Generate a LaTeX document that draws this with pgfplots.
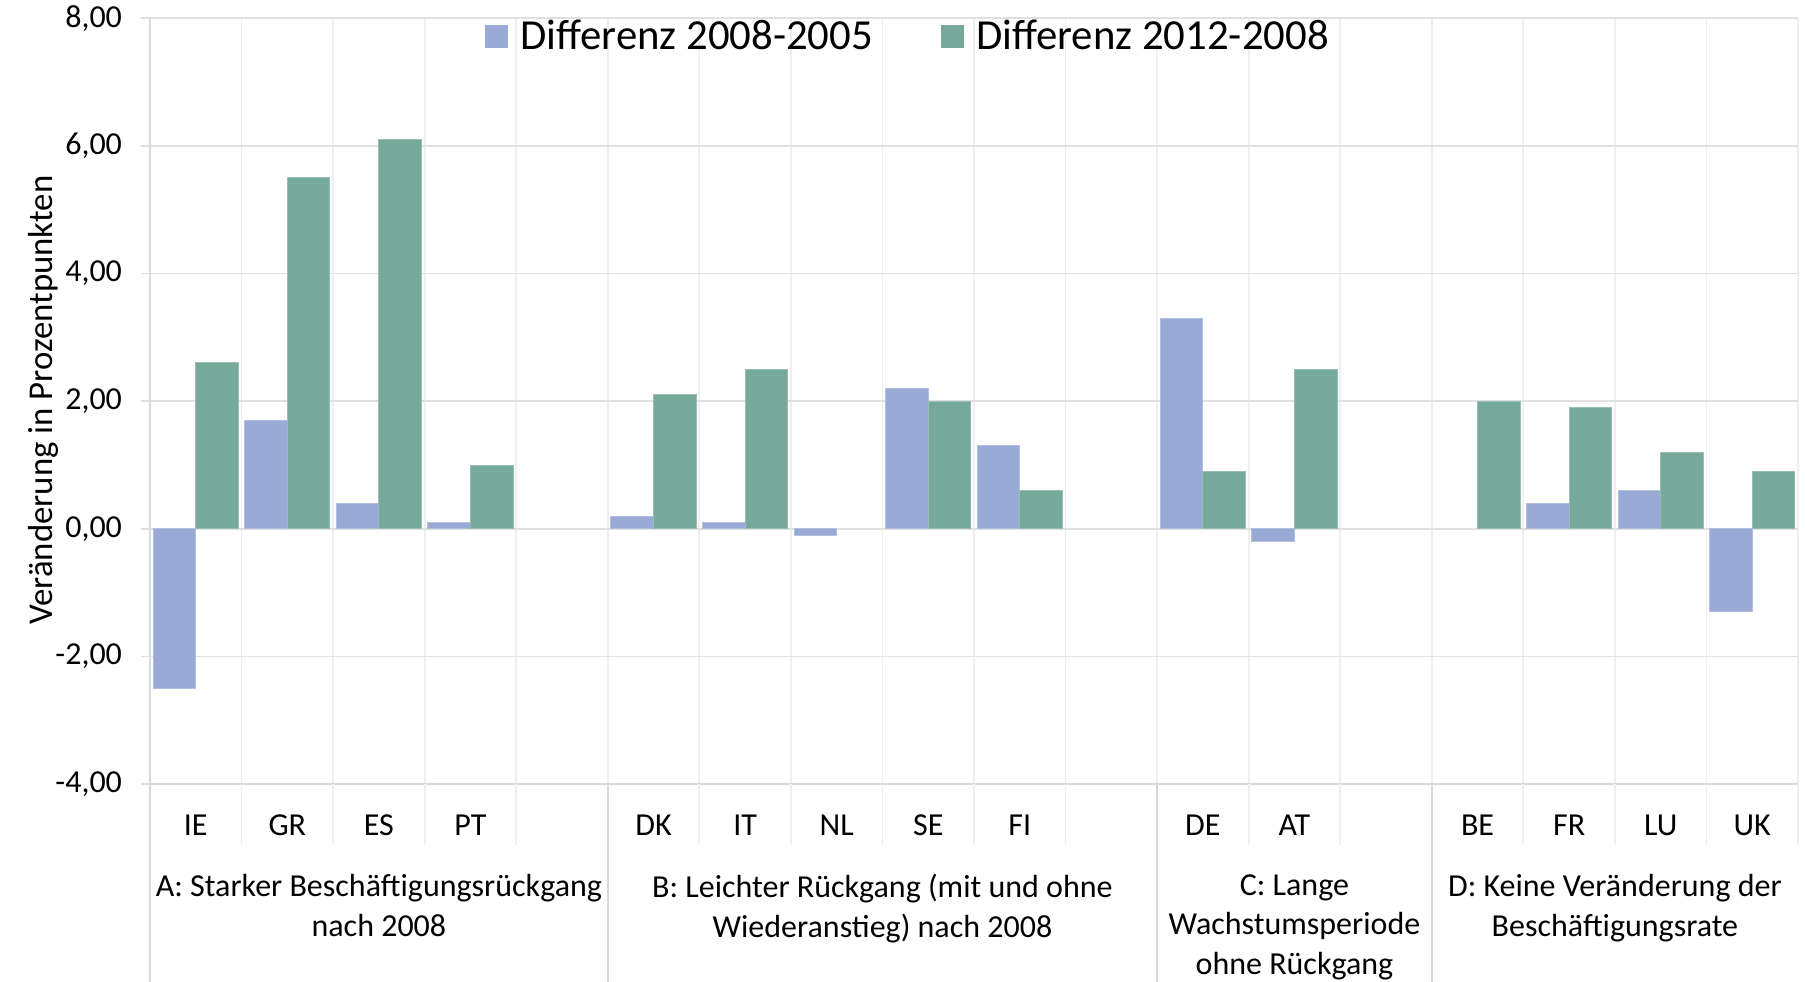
\documentclass[border=0pt]{standalone}
\usepackage{fontspec}
\setmainfont{Carlito}
\usepackage{pgfplots}
\pgfplotsset{compat=1.18}
\definecolor{cblue}{HTML}{98AAD5}
\definecolor{cgreen}{HTML}{77A99A}
\definecolor{gridc}{HTML}{E0E0E0}
\definecolor{vgrid}{HTML}{EFEFEF}
\definecolor{axc}{HTML}{D9D9D9}
\begin{document}
\begin{tikzpicture}
\useasboundingbox (0,0) rectangle (902.5pt,490.5pt);
\begin{axis}[
  at={(75pt,98.5pt)}, anchor=south west,
  scale only axis, width=824pt, height=382.8pt,
  clip=false,
  xmin=-0.5, xmax=17.5, ymin=-4, ymax=8,
  axis lines=left,
  axis line style={-, draw=axc, line width=0.9pt},
  ytick={-4,-2,...,8},
  ymajorgrids,
  major grid style={draw=gridc, line width=0.9pt},
  xtick={0,...,17},
  xticklabels={IE,GR,ES,PT,,DK,IT,NL,SE,FI,,DE,AT,,BE,FR,LU,UK},
  minor xtick={0.5,1.5,...,17.5},
  xminorgrids,
  minor grid style={draw=vgrid, line width=0.9pt},
  xtick style={draw=none},
  ytick style={draw=gridc, line width=0.9pt},
  major tick length=4.5pt,
  tick align=outside,
  tick label style={font=\fontsize{16}{19}\selectfont},
  xticklabel style={anchor=center, yshift=-16pt},
  yticklabel style={anchor=east, xshift=-6pt},
  /pgf/number format/.cd, fixed, fixed zerofill, precision=2, use comma, assume math mode=true,
  /pgfplots/.cd,
  extra y ticks={0},
  extra y tick labels={},
  extra y tick style={grid style={draw=axc, line width=1.4pt}, ytick style={draw=none}},
  legend style={at={(0.4606,0.977)}, anchor=center, draw=none, fill=none,
    legend columns=2, font=\fontsize{21.4}{25}\selectfont,
    /tikz/every odd column/.append style={column sep=4pt},
    /tikz/every even column/.append style={column sep=32pt}},
]
\addplot[ybar, bar width=0.465, bar shift=-0.2325, fill=cblue, draw=cblue!75!white, line width=0.5pt,
  legend image code/.code={\fill[cblue] (0pt,-5.5pt) rectangle (11pt,5.5pt);}]
  coordinates {(0,-2.5) (1,1.7) (2,0.4) (3,0.1) (5,0.2) (6,0.1) (7,-0.1) (8,2.2) (9,1.3) (11,3.3) (12,-0.2) (15,0.4) (16,0.6) (17,-1.3)};
\addlegendentry{Differenz 2008-2005}
\addplot[ybar, bar width=0.465, bar shift=0.2325, fill=cgreen, draw=cgreen!75!white, line width=0.5pt,
  legend image code/.code={\fill[cgreen] (0pt,-5.5pt) rectangle (11pt,5.5pt);}]
  coordinates {(0,2.6) (1,5.5) (2,6.1) (3,1.0) (5,2.1) (6,2.5) (8,2.0) (9,0.6) (11,0.9) (12,2.5) (14,2.0) (15,1.9) (16,1.2) (17,0.9)};
\addlegendentry{Differenz 2012-2008}
% separators below the axis
\pgfplotsinvokeforeach{0.5,1.5,2.5,3.5,5.5,6.5,7.5,8.5,9.5,11.5,12.5,14.5,15.5,16.5,17.5}{
  \draw[draw=vgrid, line width=0.9pt] (axis cs:#1,-4) -- ([yshift=-30.5pt]axis cs:#1,-4);
}
\pgfplotsinvokeforeach{-0.5,4.5,10.5,13.5}{
  \draw[draw=axc, line width=0.9pt] (axis cs:#1,-4) -- ([yshift=-100pt]axis cs:#1,-4);
}
% group labels
\node[align=center, anchor=north, inner sep=0pt, font=\fontsize{16}{19.9}\selectfont] at ([yshift=-45pt]axis cs:2,-4) {A: Starker Beschäftigungsrückgang\\nach 2008};
\node[align=center, anchor=north, inner sep=0pt, font=\fontsize{16}{19.9}\selectfont] at ([yshift=-45pt]axis cs:7.5,-4) {B: Leichter Rückgang (mit und ohne\\Wiederanstieg) nach 2008};
\node[align=center, anchor=north, inner sep=0pt, font=\fontsize{16}{19.9}\selectfont] at ([yshift=-45pt]axis cs:12,-4) {C: Lange\\Wachstumsperiode\\ohne Rückgang};
\node[align=center, anchor=north, inner sep=0pt, font=\fontsize{16}{19.9}\selectfont] at ([yshift=-45pt]axis cs:15.5,-4) {D: Keine Veränderung der\\Beschäftigungsrate};
\end{axis}
\node[rotate=90, font=\fontsize{17.4}{20}\selectfont] at (21.9pt,290.5pt) {Veränderung in Prozentpunkten};
\end{tikzpicture}
\end{document}
